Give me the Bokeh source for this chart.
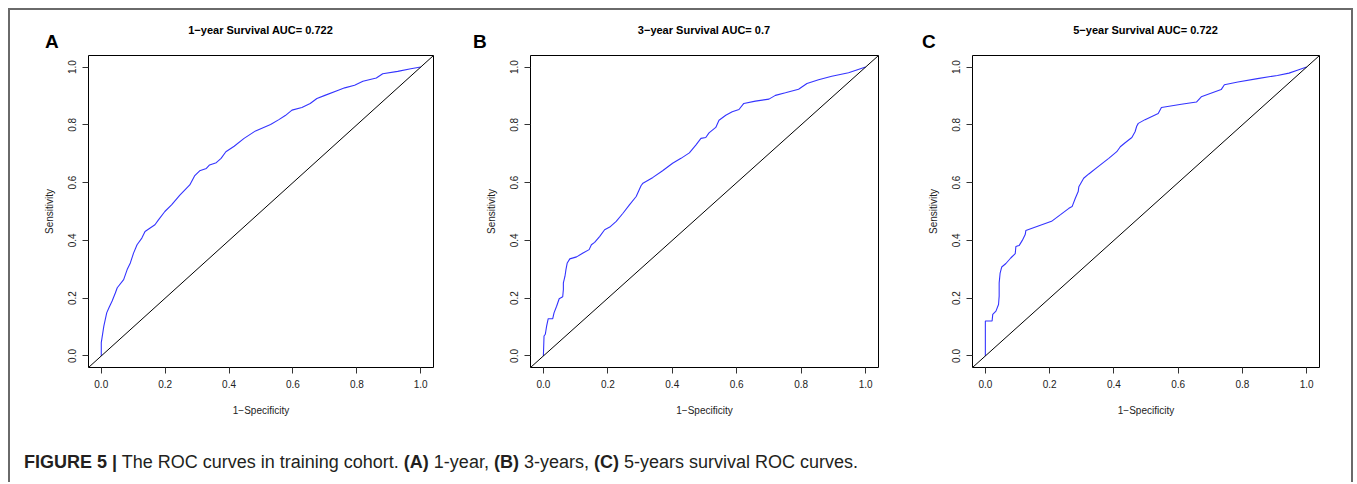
from bokeh.plotting import figure
from bokeh.models import Slope, FixedTicker, NumeralTickFormatter, Div, Range1d
from bokeh.layouts import row, column
from bokeh.embed import file_html
from bokeh.resources import INLINE

# ---------------- data ----------------
titles = ["1\u2212year Survival AUC= 0.722",
          "3\u2212year Survival AUC= 0.7",
          "5\u2212year Survival AUC= 0.722"]
panel_letters = ["A", "B", "C"]
tick_values = [0.0, 0.2, 0.4, 0.6, 0.8, 1.0]
x_label = "1\u2212Specificity"
y_label = "Sensitivity"

roc1_fpr = [0.0, 0.0, 0.008, 0.017, 0.024, 0.034, 0.044, 0.050, 0.070, 0.081, 0.091, 0.101,
            0.112, 0.127, 0.137, 0.153, 0.168, 0.179, 0.199, 0.220, 0.246, 0.277, 0.292,
            0.308, 0.329, 0.339, 0.360, 0.375, 0.390, 0.416, 0.447, 0.483, 0.530, 0.556,
            0.576, 0.597, 0.628, 0.654, 0.675, 0.700, 0.742, 0.762, 0.793, 0.819, 0.861,
            0.881, 0.928, 0.969, 1.0]
roc1_tpr = [0.0, 0.046, 0.103, 0.149, 0.167, 0.190, 0.218, 0.236, 0.264, 0.299, 0.322, 0.356,
            0.385, 0.408, 0.431, 0.443, 0.454, 0.471, 0.500, 0.523, 0.557, 0.592, 0.623,
            0.641, 0.649, 0.661, 0.669, 0.684, 0.707, 0.726, 0.753, 0.779, 0.801, 0.818,
            0.832, 0.851, 0.860, 0.874, 0.891, 0.902, 0.920, 0.928, 0.937, 0.951, 0.962,
            0.977, 0.985, 0.994, 1.0]

roc3_fpr = [0.0, 0.002, 0.006, 0.010, 0.015, 0.029, 0.033, 0.041, 0.049, 0.060, 0.062, 0.062,
            0.067, 0.070, 0.074, 0.082, 0.103, 0.123, 0.142, 0.149, 0.159, 0.175, 0.190,
            0.206, 0.226, 0.247, 0.267, 0.288, 0.303, 0.309, 0.340, 0.370, 0.401, 0.427,
            0.453, 0.473, 0.489, 0.504, 0.514, 0.535, 0.545, 0.566, 0.586, 0.607, 0.622,
            0.658, 0.700, 0.720, 0.751, 0.792, 0.818, 0.854, 0.895, 0.947, 1.0]
roc3_tpr = [0.0, 0.069, 0.075, 0.103, 0.129, 0.129, 0.149, 0.172, 0.198, 0.205, 0.230, 0.253,
            0.276, 0.299, 0.322, 0.336, 0.343, 0.356, 0.368, 0.385, 0.393, 0.414, 0.437,
            0.446, 0.466, 0.494, 0.523, 0.552, 0.589, 0.598, 0.618, 0.641, 0.667, 0.684,
            0.703, 0.730, 0.753, 0.756, 0.772, 0.791, 0.816, 0.833, 0.845, 0.853, 0.874,
            0.882, 0.889, 0.902, 0.911, 0.923, 0.943, 0.956, 0.968, 0.980, 1.0]

roc5_fpr = [0.0, 0.0, 0.021, 0.023, 0.033, 0.041, 0.043, 0.043, 0.046, 0.051, 0.064, 0.079,
            0.093, 0.095, 0.105, 0.115, 0.124, 0.126, 0.167, 0.206, 0.234, 0.260, 0.270,
            0.280, 0.289, 0.291, 0.306, 0.322, 0.353, 0.384, 0.409, 0.420, 0.435, 0.456,
            0.466, 0.471, 0.476, 0.497, 0.538, 0.548, 0.610, 0.657, 0.672, 0.734, 0.744,
            0.786, 0.847, 0.909, 0.945, 0.971, 1.0]
roc5_tpr = [0.0, 0.121, 0.121, 0.144, 0.155, 0.178, 0.207, 0.253, 0.287, 0.308, 0.320, 0.339,
            0.354, 0.379, 0.382, 0.400, 0.420, 0.434, 0.451, 0.466, 0.489, 0.511, 0.517,
            0.546, 0.569, 0.586, 0.615, 0.630, 0.657, 0.684, 0.707, 0.724, 0.738, 0.756,
            0.776, 0.795, 0.805, 0.818, 0.839, 0.860, 0.871, 0.879, 0.897, 0.922, 0.939,
            0.948, 0.960, 0.971, 0.979, 0.989, 1.0]

fpr_series = [roc1_fpr, roc3_fpr, roc5_fpr]
tpr_series = [roc1_tpr, roc3_tpr, roc5_tpr]

caption_html = ("<b>FIGURE 5 |</b> The ROC curves in training cohort. <b>(A)</b> 1-year, "
                "<b>(B)</b> 3-years, <b>(C)</b> 5-years survival ROC curves.")

# ---------------- layout ----------------
FONT = "Liberation Sans"
CSS_FONT = "'Liberation Sans', Arial, sans-serif"
fig_widths = [447, 445, 449]
border_left = [78, 73, 70]
border_right = [24, 24, 32]
letter_left = [35, 16, 20]
HDR_H = 40
FIG_H = 380
B_TOP = 5
B_BOTTOM = 63


def header_div(i):
    fw = fig_widths[i] - border_left[i] - border_right[i]
    html = (
        f'<div style="position:relative; width:{fig_widths[i]}px; height:{HDR_H}px;">'
        f'<span style="position:absolute; left:{letter_left[i]}px; top:22px; '
        f'font-family:{CSS_FONT}; font-weight:bold; font-size:19px; line-height:19px; color:#000;">'
        f'{panel_letters[i]}</span>'
        f'<span style="position:absolute; left:{border_left[i]}px; width:{fw}px; top:15px; '
        f'text-align:center; white-space:nowrap; font-family:{CSS_FONT}; font-weight:bold; '
        f'font-size:11px; line-height:11px; color:#000;">{titles[i]}</span>'
        '</div>')
    return Div(text=html, width=fig_widths[i], height=HDR_H, margin=0)


panels = []
for i in range(3):
    p = figure(width=fig_widths[i], height=FIG_H, output_backend="svg",
               toolbar_location=None, x_range=Range1d(-0.04, 1.04),
               y_range=Range1d(-0.04, 1.04),
               min_border_left=border_left[i], min_border_right=border_right[i],
               min_border_top=B_TOP, min_border_bottom=B_BOTTOM,
               background_fill_color="white", border_fill_color="white")
    p.outline_line_color = "black"
    p.outline_line_width = 1
    p.xgrid.visible = False
    p.ygrid.visible = False

    for ax in (p.xaxis[0], p.yaxis[0]):
        ax.ticker = FixedTicker(ticks=tick_values)
        ax.formatter = NumeralTickFormatter(format="0.0")
        ax.axis_line_color = None
        ax.major_tick_in = 0
        ax.major_tick_out = 6
        ax.major_tick_line_color = "#333333"
        ax.minor_tick_line_color = None
        ax.major_label_text_font = FONT
        ax.major_label_text_font_size = "10px"
        ax.major_label_text_color = "#222222"
        ax.axis_label_text_font = FONT
        ax.axis_label_text_font_size = "10px"
        ax.axis_label_text_font_style = "normal"
        ax.axis_label_text_color = "#222222"
    p.xaxis.axis_label = x_label
    p.yaxis.axis_label = y_label
    p.xaxis.major_label_standoff = 6
    p.xaxis.axis_label_standoff = 14
    p.yaxis.major_label_orientation = "vertical"
    p.yaxis.major_label_standoff = 6
    p.yaxis.axis_label_standoff = 11

    p.add_layout(Slope(gradient=1, y_intercept=0, line_color="black", line_width=1))
    p.line(fpr_series[i], tpr_series[i], line_color="blue", line_width=1.1, line_alpha=0.8)

    panels.append(column(header_div(i), p, spacing=0))

caption = Div(text=(f'<div style="padding-left:14px; padding-top:22px; font-family:{CSS_FONT}; '
                    'font-size:18px; line-height:20px; color:#231f20; white-space:nowrap;">'
                    + caption_html + '</div>'),
              width=sum(fig_widths), height=52, margin=0)

layout = column(row(*panels, spacing=0), caption, spacing=0,
                styles={"margin-left": "8px", "margin-top": "8px", "background": "white",
                        "border-top": "2px solid #6a6a6a", "border-left": "2px solid #6a6a6a",
                        "border-right": "2px solid #6a6a6a"})

open("out.html", "w").write(file_html(layout, INLINE))
